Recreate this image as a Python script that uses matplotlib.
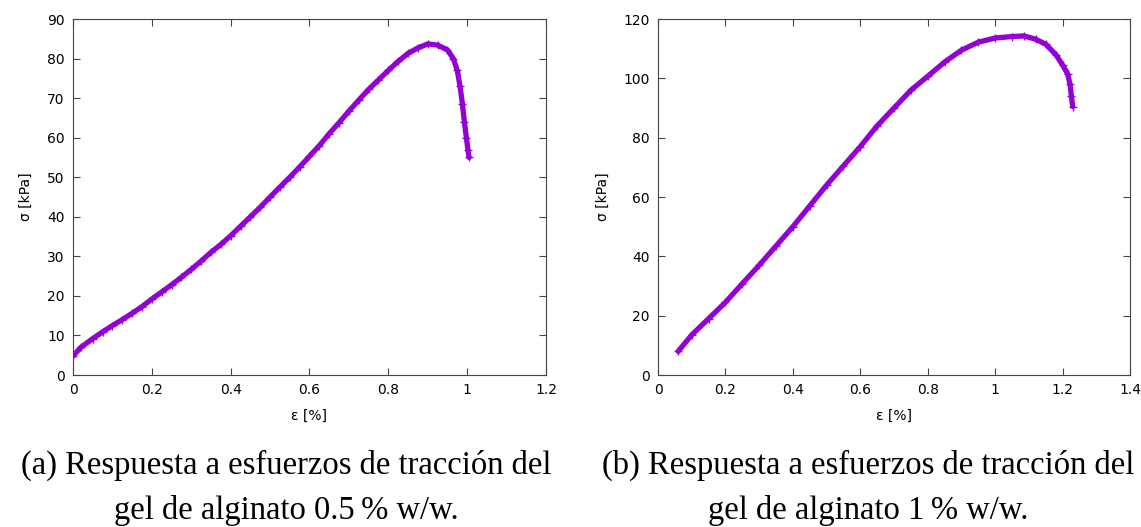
import matplotlib
matplotlib.use("Agg")
import matplotlib.pyplot as plt

# (a) alginate gel 0.5 % w/w : strain [%], stress [kPa]
eps_a = [0.0, 0.02, 0.05, 0.075, 0.1, 0.125, 0.15, 0.175, 0.2, 0.225, 0.25, 0.275,
         0.3, 0.325, 0.35, 0.375, 0.4, 0.425, 0.45, 0.475, 0.5, 0.525, 0.55, 0.575,
         0.6, 0.625, 0.65, 0.675, 0.7, 0.725, 0.75, 0.775, 0.8, 0.825, 0.85, 0.875,
         0.9, 0.925, 0.95, 0.965, 0.975, 0.982, 0.988, 0.993, 0.998, 1.002, 1.005]
sig_a = [4.8, 7.0, 9.2, 10.9, 12.5, 14.0, 15.6, 17.3, 19.2, 21.0, 22.8, 24.7,
         26.7, 28.8, 31.0, 33.0, 35.2, 37.6, 40.0, 42.4, 45.0, 47.5, 50.0, 52.6,
         55.3, 58.0, 61.0, 63.8, 66.7, 69.5, 72.2, 74.6, 77.0, 79.3, 81.3, 82.7,
         83.7, 83.4, 82.2, 80.0, 77.0, 73.0, 68.5, 64.0, 60.0, 57.0, 55.0]

# (b) alginate gel 1 % w/w
eps_b = [0.06, 0.1, 0.15, 0.2, 0.25, 0.3, 0.35, 0.4, 0.45, 0.5, 0.55, 0.6, 0.65,
         0.7, 0.75, 0.8, 0.85, 0.9, 0.95, 1.0, 1.05, 1.085, 1.12, 1.15, 1.18,
         1.2, 1.215, 1.222, 1.226, 1.23]
sig_b = [8.0, 13.5, 19.0, 24.5, 30.8, 37.0, 43.5, 50.0, 57.0, 64.0, 70.5, 77.0,
         84.0, 90.0, 96.0, 100.7, 105.5, 109.5, 112.2, 113.6, 114.1, 114.3, 113.2,
         111.5, 108.0, 104.5, 101.5, 98.0, 94.0, 90.5]

caption_a = ["(a) Respuesta a esfuerzos de tracción del", "gel de alginato 0.5\u2009% w/w."]
caption_b = ["(b) Respuesta a esfuerzos de tracción del", "gel de alginato 1\u2009% w/w."]

purple = "#9400d3"

fig = plt.figure(figsize=(11.41, 5.27), dpi=100)
ax1 = fig.add_axes([0.064, 0.2884, 0.4145, 0.6755])
ax2 = fig.add_axes([0.5767, 0.2884, 0.4137, 0.6755])

def style(ax, xmax, ymax, ystep):
    n = int(round(xmax / 0.2)) + 1
    ax.set_xlim(0, xmax)
    ax.set_ylim(0, ymax)
    ax.set_xticks([i * 0.2 for i in range(n)])
    ax.set_xticklabels(["0", "0.2", "0.4", "0.6", "0.8", "1", "1.2", "1.4"][:n])
    ax.set_yticks(range(0, ymax + 1, ystep))
    ax.tick_params(direction="in", top=True, right=True, length=5, width=0.8,
                   color="#444444", labelsize=10, pad=6)
    for s in ax.spines.values():
        s.set_color("#444444")
        s.set_linewidth(0.8)
    ax.set_xlabel("ε [%]", fontsize=10, labelpad=8)
    ax.set_ylabel("σ [kPa]", fontsize=10, labelpad=10)

for ax, e, s in [(ax1, eps_a, sig_a), (ax2, eps_b, sig_b)]:
    ax.plot(e, s, color=purple, lw=3.8, solid_capstyle="round")
    ax.plot(e, s, "+", color=purple, ms=6, mew=1)

style(ax1, 1.2, 90, 10)
style(ax2, 1.4, 120, 20)

for cx, lines in [(0.2505, caption_a), (0.7612, caption_b)]:
    fig.text(cx, 1 - 465 / 527, lines[0], ha="center", va="center",
             fontsize=23.5, family="Liberation Serif")
    fig.text(cx, 1 - 510 / 527, lines[1], ha="center", va="center",
             fontsize=23.5, family="Liberation Serif")

fig.savefig("out.png", dpi=100)
